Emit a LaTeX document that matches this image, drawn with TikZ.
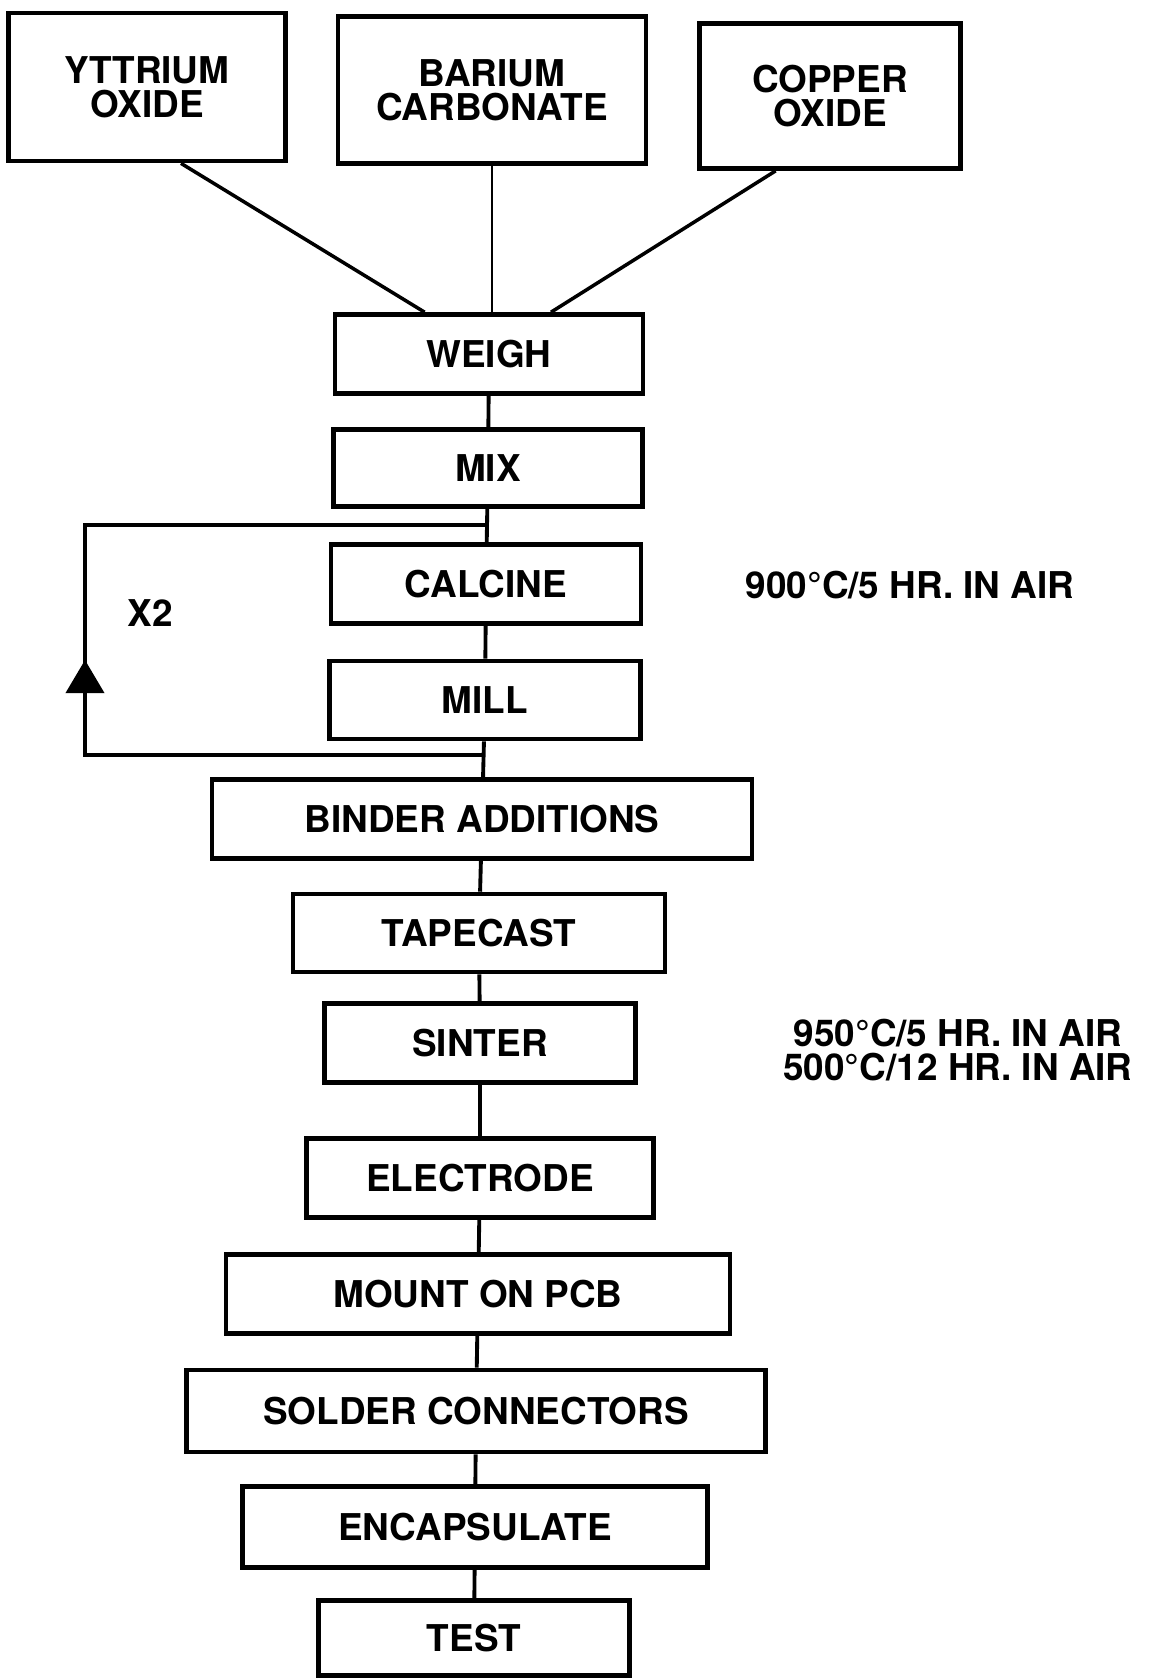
\documentclass[tikz,border=0pt]{standalone}
\usepackage{fontspec}
\setmainfont{TeX Gyre Heros}
\usetikzlibrary{arrows.meta}

\tikzset{
  procbox/.style={draw, line width=1.3pt, inner sep=0pt, align=center},
  feedline/.style={line width=1.1pt},
}

\begin{document}
\begin{tikzpicture}[x=0.01cm, y=-0.01cm, every node/.style={font=\bfseries\fontsize{10.5}{9.6}\selectfont}]
  \useasboundingbox (0,0) rectangle (1156,1678);
  % raw materials
  \node[procbox, minimum width=2.77cm, minimum height=1.48cm] (yttrium) at (147,87) {YTTRIUM\\OXIDE};
  \node[procbox, minimum width=3.08cm, minimum height=1.47cm] (barium) at (492,90) {BARIUM\\CARBONATE};
  \node[procbox, minimum width=2.61cm, minimum height=1.45cm] (copper) at (830,96) {COPPER\\OXIDE};
  % process steps
  \node[procbox, minimum width=3.08cm, minimum height=0.79cm] (weigh) at (489,354) {WEIGH};
  \node[procbox, minimum width=3.09cm, minimum height=0.77cm] (mix) at (488,468) {MIX};
  \node[procbox, minimum width=3.10cm, minimum height=0.79cm] (calcine) at (486,584) {CALCINE};
  \node[procbox, minimum width=3.11cm, minimum height=0.78cm] (mill) at (485,700) {MILL};
  \node[procbox, minimum width=5.40cm, minimum height=0.79cm] (binder) at (482,819) {BINDER ADDITIONS};
  \node[procbox, minimum width=3.72cm, minimum height=0.78cm] (tapecast) at (479,933) {TAPECAST};
  \node[procbox, minimum width=3.11cm, minimum height=0.79cm] (sinter) at (480,1043) {SINTER};
  \node[procbox, minimum width=3.47cm, minimum height=0.79cm] (electrode) at (480,1178) {ELECTRODE};
  \node[procbox, minimum width=5.04cm, minimum height=0.79cm] (mount) at (478,1294) {MOUNT ON PCB};
  \node[procbox, minimum width=5.79cm, minimum height=0.82cm] (solder) at (476,1411) {SOLDER CONNECTORS};
  \node[procbox, minimum width=4.65cm, minimum height=0.81cm] (encaps) at (475,1527) {ENCAPSULATE};
  \node[procbox, minimum width=3.11cm, minimum height=0.75cm] (test) at (474,1638) {TEST};
  % notes
  \node (x2) at (150,613) {X2};
  \node (calcinenote) at (910,585) {900°C/5 HR. IN AIR};
  \node[align=center] (sinternote) at (958,1050) {950°C/5 HR. IN AIR\\500°C/12 HR. IN AIR};
  % feeds into weigh
  \draw[line width=1pt] (yttrium.-66) -- (weigh.147);
  \draw[line width=0.8pt] (barium.south) -- (barium.south |- weigh.north);
  \draw[line width=1pt] (copper.-126) -- (weigh.34);
  % main line
  \foreach \a/\b in {weigh/mix, mix/calcine, calcine/mill, mill/binder, binder/tapecast,
                     tapecast/sinter, sinter/electrode, electrode/mount, mount/solder,
                     solder/encaps, encaps/test}
    \draw[feedline] (\a) -- (\b);
  % repeat loop
  \coordinate (loopTR) at (487,525);
  \coordinate (loopTL) at (85,525);
  \coordinate (loopBL) at (85,755);
  \coordinate (loopBR) at (484,755);
  \coordinate (looptip) at (85,660);
  \draw[feedline] (loopBR) -- (loopBL) -- (loopTL) -- (loopTR);
  \draw[feedline, -{Triangle[width=0.38cm, length=0.33cm]}] (loopBL) -- (looptip);
\end{tikzpicture}
\end{document}
